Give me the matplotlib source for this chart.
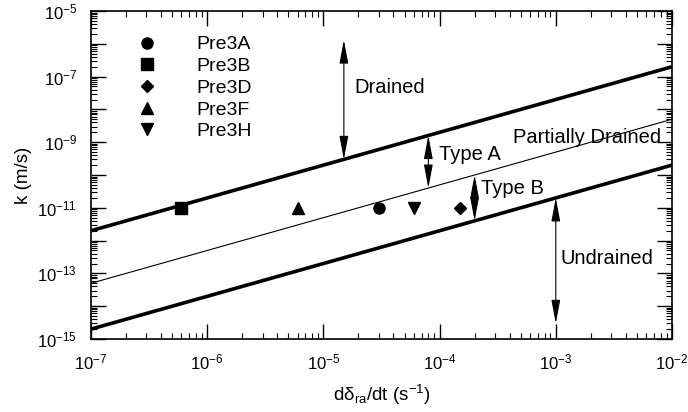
import numpy as np
import matplotlib
matplotlib.use("Agg")
import matplotlib.pyplot as plt
from matplotlib.ticker import FixedLocator, LogLocator, NullFormatter

plt.rcParams['font.family'] = ['Liberation Sans', 'DejaVu Sans']
plt.rcParams['mathtext.fontset'] = 'custom'
plt.rcParams['mathtext.rm'] = 'Liberation Sans'
plt.rcParams['mathtext.it'] = 'Liberation Sans:italic'

# boundary lines k = c * rate
rate_line = np.array([1e-7, 1e-2])
c_drained = 2e-5
c_partial = 5e-7
c_undrained = 2e-8

# test points
names = ['Pre3A', 'Pre3B', 'Pre3D', 'Pre3F', 'Pre3H']
markers = ['o', 's', 'D', '^', 'v']
sizes = [8, 8, 6, 8, 8]
rates = [3e-5, 6e-7, 1.5e-4, 6e-6, 6e-5]
kvals = [1e-11, 1e-11, 1e-11, 1e-11, 1e-11]

fig = plt.figure(figsize=(6.88, 4.12), dpi=100)
ax = fig.add_axes([91/688, 1 - 339/412, 581/688, 328/412])

ax.plot(rate_line, c_drained * rate_line, color='k', lw=2.6, solid_capstyle='butt')
ax.plot(rate_line, c_partial * rate_line, color='k', lw=0.8)
ax.plot(rate_line, c_undrained * rate_line, color='k', lw=2.6, solid_capstyle='butt')

for n, m, s, r, kv in zip(names, markers, sizes, rates, kvals):
    ax.plot([r], [kv], m, color='k', ms=s, label=n, zorder=3)

ax.set_xscale('log')
ax.set_yscale('log')
ax.set_xlim(1e-7, 1e-2)
ax.set_ylim(1e-15, 1e-5)

# double headed arrows between the regions
astyle = dict(arrowstyle='<|-|>,head_length=0.9,head_width=0.17',
              color='k', lw=0.8, mutation_scale=16, shrinkA=0, shrinkB=0)
x_dr = 1.5e-5
ax.annotate('', xy=(x_dr, 1.3e-6), xytext=(x_dr, c_drained * x_dr), arrowprops=astyle)
x_a = 8e-5
ax.annotate('', xy=(x_a, c_drained * x_a), xytext=(x_a, c_partial * x_a), arrowprops=astyle)
x_b = 2e-4
ax.annotate('', xy=(x_b, c_partial * x_b), xytext=(x_b, c_undrained * x_b), arrowprops=astyle)
x_un = 1e-3
ax.annotate('', xy=(x_un, c_undrained * x_un), xytext=(x_un, 3e-15), arrowprops=astyle)

fs = 14.5
ax.text(1.86e-5, 4.5e-8, 'Drained', fontsize=fs, va='center')
ax.text(9.9e-5, 4.1e-10, 'Type A', fontsize=fs, va='center')
ax.text(2.25e-4, 4e-11, 'Type B', fontsize=fs, va='center')
ax.text(1.09e-3, 2.75e-13, 'Undrained', fontsize=fs, va='center')
ax.text(4.3e-4, 1.4e-9, 'Partially Drained', fontsize=fs, va='center')

# ticks on all four sides, pointing inward
ax.tick_params(which='both', direction='in', top=True, right=True, labelsize=12)
ax.tick_params(which='major', length=11, width=1)
ax.tick_params(which='minor', length=4, width=0.8)
ax.tick_params(axis='x', which='major', pad=10)
ax.tick_params(axis='y', which='major', pad=10)

ax.xaxis.set_major_locator(FixedLocator([1e-7, 1e-6, 1e-5, 1e-4, 1e-3, 1e-2]))
ax.set_xticklabels([r'$\mathdefault{10^{-7}}$', r'$\mathdefault{10^{-6}}$',
                    r'$\mathdefault{10^{-5}}$', r'$\mathdefault{10^{-4}}$',
                    r'$\mathdefault{10^{-3}}$', r'$\mathdefault{10^{-2}}$'])
ax.xaxis.set_minor_locator(LogLocator(base=10, subs=np.arange(2, 10), numticks=20))
ax.xaxis.set_minor_formatter(NullFormatter())

yt = [10.0 ** e for e in range(-15, -4)]
ax.yaxis.set_major_locator(FixedLocator(yt))
ax.set_yticklabels([r'$\mathdefault{10^{%d}}$' % e if e % 2 == 1 else ''
                    for e in range(-15, -4)])
ax.yaxis.set_minor_locator(LogLocator(base=10, subs=np.arange(2, 10), numticks=30))
ax.yaxis.set_minor_formatter(NullFormatter())

for sp in ax.spines.values():
    sp.set_linewidth(1.2)

ax.set_xlabel(r'd$\mathdefault{\delta_{ra}}$/dt (s$^{\mathdefault{-1}}$)',
              fontsize=13.5, labelpad=7)
ax.set_ylabel('k (m/s)', fontsize=13.5, labelpad=4)

ax.legend(loc='upper left', bbox_to_anchor=(0.066, 0.948), frameon=False,
          fontsize=14, handlelength=1.0, handletextpad=2.07, labelspacing=0.21,
          borderaxespad=0, numpoints=1)

fig.savefig('out.png', dpi=100)
